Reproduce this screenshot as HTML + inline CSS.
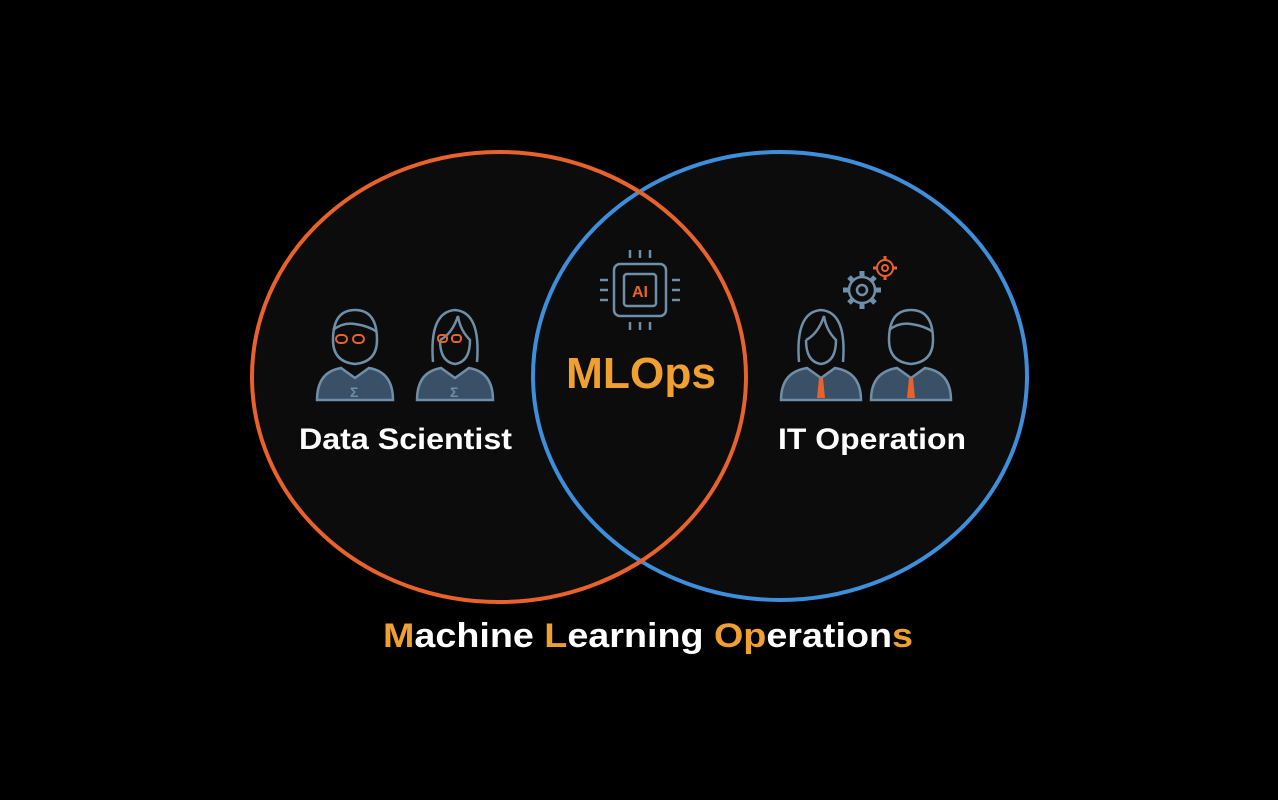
<!DOCTYPE html>
<html><head><meta charset="utf-8"><style>
html,body{margin:0;padding:0;background:#000;width:1278px;height:800px;overflow:hidden}
svg{display:block}
text{font-family:"Liberation Sans",sans-serif;font-weight:bold}
</style></head><body>
<svg width="1278" height="800" viewBox="0 0 1278 800">
<defs><clipPath id="c"><rect x="600" y="0" width="200" height="800"/></clipPath></defs>
<rect width="1278" height="800" fill="#000"/>
<ellipse cx="499" cy="377" rx="247" ry="225" fill="#0c0c0c" stroke="#e8622c" stroke-width="4"/>
<ellipse cx="780" cy="376" rx="247" ry="224" fill="#0c0c0c" stroke="#3d8fdc" stroke-width="4"/>
<ellipse cx="499" cy="377" rx="247" ry="225" fill="none" stroke="#e8622c" stroke-width="4" clip-path="url(#c)"/>

<g stroke="#6f8ea8" stroke-width="2.5" fill="none">
<path d="M333,340 q0,-30 22,-30 q22,0 22,30 q0,22 -22,24 q-22,-2 -22,-24z"/>
<path d="M333,330 q10,-8 22,-6 q14,2 22,8"/>
<path d="M317,400 q0,-28 24,-32 l14,10 l14,-10 q24,4 24,32z" fill="#3a5066" stroke="#6f8ea8"/>
<path d="M433,362 q-4,-50 22,-52 q26,2 22,52"/>
<path d="M440,340 q0,22 15,24 q15,-2 15,-24 q-10,-10 -12,-24 q-6,18 -18,24"/>
<path d="M417,400 q0,-28 24,-32 l14,10 l14,-10 q24,4 24,32z" fill="#3a5066" stroke="#6f8ea8"/>
<path d="M799,362 q-4,-50 22,-52 q26,2 22,52"/>
<path d="M806,340 q0,22 15,24 q15,-2 15,-24 q-10,-10 -12,-24 q-6,18 -18,24"/>
<path d="M781,400 q0,-28 26,-32 l14,10 l14,-10 q26,4 26,32z" fill="#3a5066" stroke="#6f8ea8"/>
<path d="M889,340 q0,-30 22,-30 q22,0 22,30 q0,22 -22,24 q-22,-2 -22,-24z"/>
<path d="M889,330 q10,-8 22,-6 q14,2 22,8"/>
<path d="M871,400 q0,-28 26,-32 l14,10 l14,-10 q26,4 26,32z" fill="#3a5066" stroke="#6f8ea8"/>
<rect x="614" y="264" width="52" height="52" rx="6"/>
<rect x="624" y="274" width="32" height="32" rx="3"/>
<path d="M630,250v8M640,250v8M650,250v8M630,322v8M640,322v8M650,322v8M600,280h8M600,290h8M600,300h8M672,280h8M672,290h8M672,300h8"/>
<circle cx="862" cy="290" r="13"/>
<circle cx="862" cy="290" r="5"/>
<path d="M862,271v6M862,303v6M843,290h6M875,290h6M849,277l4,4M871,299l4,4M849,303l4,-4M871,281l4,-4" stroke-width="5"/>
</g>
<g stroke="#e8622c" stroke-width="2" fill="none">
<circle cx="885" cy="268" r="8"/><circle cx="885" cy="268" r="3"/>
<path d="M885,256v4M885,276v4M873,268h4M893,268h4" stroke-width="3"/>
<rect x="336" y="335" width="11" height="8" rx="4"/><rect x="353" y="335" width="11" height="8" rx="4"/>
<rect x="438" y="335" width="9" height="7" rx="3"/><rect x="452" y="335" width="9" height="7" rx="3"/>
</g>
<path d="M819,378h4l2,20h-8z M909,378h4l2,20h-8z" fill="#e8622c"/>
<text x="350" y="397" fill="#6f8ea8" font-size="14">Σ</text>
<text x="450" y="397" fill="#6f8ea8" font-size="14">Σ</text>
<text x="640" y="297" fill="#e8622c" font-size="16" text-anchor="middle">AI</text>

<text x="299" y="449" fill="#fff" font-size="30" textLength="213" lengthAdjust="spacingAndGlyphs">Data Scientist</text>
<text x="778" y="449" fill="#fff" font-size="30" textLength="188" lengthAdjust="spacingAndGlyphs">IT Operation</text>
<text x="566" y="388" fill="#f0a030" font-size="44" textLength="150" lengthAdjust="spacingAndGlyphs">MLOps</text>
<text x="383" y="647" fill="#fff" font-size="34" textLength="530" lengthAdjust="spacingAndGlyphs"><tspan fill="#f0a030">M</tspan>achine <tspan fill="#f0a030">L</tspan>earning <tspan fill="#f0a030">Op</tspan>eration<tspan fill="#f0a030">s</tspan></text>
</svg>
</body></html>
